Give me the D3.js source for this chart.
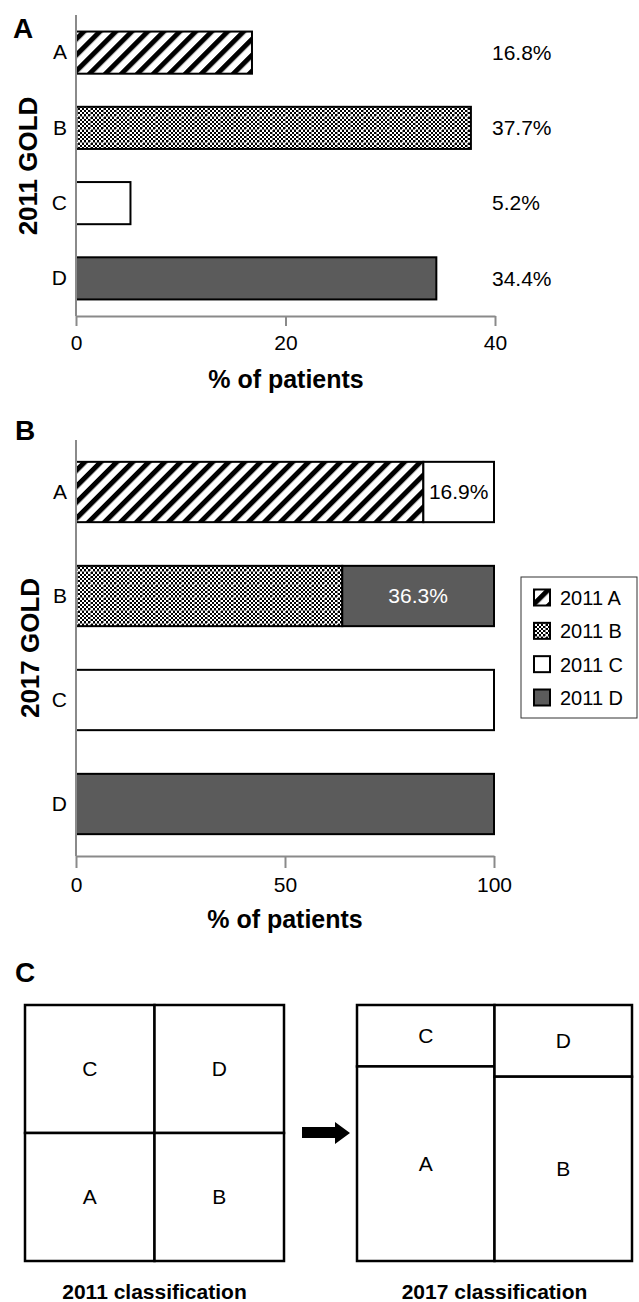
<!DOCTYPE html>
<html>
<head>
<meta charset="utf-8">
<script src="https://cdn.jsdelivr.net/npm/d3@7/dist/d3.min.js"></script>
<style>
  html, body { margin: 0; padding: 0; background: #fff; }
  svg { display: block; font-family: "Liberation Sans", Arial, sans-serif; }
</style>
</head>
<body>
<svg id="chart" width="639" height="1302"></svg>
<script>
// ---------- DATA ----------
const categories = ["A", "B", "C", "D"];
// Panel A: 2011 GOLD distribution (% of patients)
const valuesA = [16.8, 37.7, 5.2, 34.4];
const labelsA = ["16.8%", "37.7%", "5.2%", "34.4%"];
const ticksA = [0, 20, 40];
// Panel B: 2017 GOLD composition by 2011 group (% of patients)
const seriesNames = ["2011 A", "2011 B", "2011 C", "2011 D"];
const s2011A = [83.1, 0, 0, 0];
const s2011B = [0, 63.7, 0, 0];
const s2011C = [16.9, 0, 100, 0];
const s2011D = [0, 36.3, 0, 100];
const ticksB = [0, 50, 100];
const segLabels = [{cat: "A", series: "2011 C", text: "16.9%"}, {cat: "B", series: "2011 D", text: "36.3%"}];
// Panel C: classification grids (fraction of height taken by upper cell per column)
const gridCols = [["C", "A"], ["D", "B"]];
const split2011 = [0.5, 0.5];
const split2017 = [0.24, 0.28];

// ---------- SETUP ----------
const svg = d3.select("#chart");
const defs = svg.append("defs");
const dark = "#5b5b5b";
const axisGray = "#8a8a8a";
const fs = 21;

// stripes pattern
const sp = 11.3;
const stripes = defs.append("pattern").attr("id", "stripes")
  .attr("patternUnits", "userSpaceOnUse").attr("width", sp).attr("height", sp)
  .attr("patternTransform", "rotate(45)");
stripes.append("rect").attr("width", sp).attr("height", sp).attr("fill", "#fff");
stripes.append("rect").attr("width", 5).attr("height", sp).attr("fill", "#000");

// checker pattern
const checker = defs.append("pattern").attr("id", "checker")
  .attr("patternUnits", "userSpaceOnUse").attr("width", 13).attr("height", 13);
checker.append("rect").attr("width", 13).attr("height", 13).attr("fill", "#fff");
for (let i = 0; i < 6; i++) for (let j = 0; j < 6; j++) {
  if ((i + j) % 2 === 0)
    checker.append("rect").attr("x", i * 2).attr("y", j * 2).attr("width", 2).attr("height", 2).attr("fill", "#000");
}
checker.append("rect").attr("x", 12).attr("y", 0).attr("width", 1).attr("height", 12).attr("fill", "#888");
checker.append("rect").attr("x", 0).attr("y", 12).attr("width", 12).attr("height", 1).attr("fill", "#888");

const fillFor = {"2011 A": "url(#stripes)", "2011 B": "url(#checker)", "2011 C": "#fff", "2011 D": dark};
const fillA = ["url(#stripes)", "url(#checker)", "#fff", dark];

function styleAxis(g) {
  g.selectAll(".domain").attr("stroke", axisGray).attr("stroke-width", 2);
  g.selectAll(".tick line").attr("stroke", axisGray).attr("stroke-width", 2);
  g.selectAll("text").attr("font-size", fs).attr("fill", "#000")
    .attr("font-family", "Liberation Sans, Arial, sans-serif");
}

// ---------- PANEL A ----------
const xA = d3.scaleLinear().domain([0, 40]).range([76, 495]);
const yA = d3.scaleBand().domain(categories).range([15, 316]).paddingInner(0.44).paddingOuter(0.22);

svg.append("g").selectAll("rect").data(valuesA).join("rect")
  .attr("x", xA(0)).attr("y", (d, i) => yA(categories[i]))
  .attr("width", d => xA(d) - xA(0)).attr("height", yA.bandwidth())
  .attr("fill", (d, i) => fillA[i]).attr("stroke", "#000").attr("stroke-width", 2);

svg.append("g").selectAll("text").data(labelsA).join("text")
  .attr("x", 492).attr("y", (d, i) => yA(categories[i]) + yA.bandwidth() / 2)
  .attr("dy", "0.35em").attr("font-size", fs).text(d => d);

const yAxisA = svg.append("g").attr("transform", `translate(${xA(0)},0)`)
  .call(d3.axisLeft(yA).tickSize(0).tickPadding(9));
yAxisA.select(".domain").attr("d", `M0,15V316`);
styleAxis(yAxisA);

const xAxisA = svg.append("g").attr("transform", "translate(0,316)")
  .call(d3.axisBottom(xA).tickValues(ticksA).tickSize(10).tickSizeOuter(0));
styleAxis(xAxisA);
xAxisA.selectAll("text").attr("y", 27).attr("dy", "0.35em");

svg.append("text").attr("x", 286).attr("y", 388).attr("text-anchor", "middle")
  .attr("font-size", 25).attr("font-weight", "bold").text("% of patients");
svg.append("text").attr("transform", "translate(37,166) rotate(-90)").attr("text-anchor", "middle")
  .attr("font-size", 26).attr("font-weight", "bold").text("2011 GOLD");
svg.append("text").attr("x", 13).attr("y", 38).attr("font-size", 28).attr("font-weight", "bold").text("A");

// ---------- PANEL B ----------
const xB = d3.scaleLinear().domain([0, 100]).range([76, 494]);
const yB = d3.scaleBand().domain(categories).range([440, 856]).paddingInner(0.42).paddingOuter(0.21);

const tableB = categories.map((c, i) => ({
  cat: c, "2011 A": s2011A[i], "2011 B": s2011B[i], "2011 C": s2011C[i], "2011 D": s2011D[i]
}));
const stacked = d3.stack().keys(seriesNames)(tableB);

const gB = svg.append("g");
stacked.forEach(layer => {
  gB.append("g").selectAll("rect").data(layer.filter(d => d[1] - d[0] > 0)).join("rect")
    .attr("x", d => xB(d[0])).attr("y", d => yB(d.data.cat))
    .attr("width", d => xB(d[1]) - xB(d[0])).attr("height", yB.bandwidth())
    .attr("fill", fillFor[layer.key]).attr("stroke", "#000").attr("stroke-width", 2);
});

segLabels.forEach(s => {
  const layer = stacked.find(l => l.key === s.series);
  const d = layer[categories.indexOf(s.cat)];
  svg.append("text").attr("x", (xB(d[0]) + xB(d[1])) / 2)
    .attr("y", yB(s.cat) + yB.bandwidth() / 2).attr("dy", "0.35em")
    .attr("text-anchor", "middle").attr("font-size", fs)
    .attr("fill", s.series === "2011 D" ? "#fff" : "#000").text(s.text);
});

const yAxisB = svg.append("g").attr("transform", `translate(${xB(0)},0)`)
  .call(d3.axisLeft(yB).tickSize(0).tickPadding(9));
yAxisB.select(".domain").attr("d", `M0,440V856`);
styleAxis(yAxisB);

const xAxisB = svg.append("g").attr("transform", "translate(0,856)")
  .call(d3.axisBottom(xB).tickValues(ticksB).tickSize(12).tickSizeOuter(0));
styleAxis(xAxisB);
xAxisB.selectAll("text").attr("y", 29).attr("dy", "0.35em");

svg.append("text").attr("x", 285).attr("y", 928).attr("text-anchor", "middle")
  .attr("font-size", 25).attr("font-weight", "bold").text("% of patients");
svg.append("text").attr("transform", "translate(39,648) rotate(-90)").attr("text-anchor", "middle")
  .attr("font-size", 26).attr("font-weight", "bold").text("2017 GOLD");
svg.append("text").attr("x", 15).attr("y", 440).attr("font-size", 28).attr("font-weight", "bold").text("B");

// legend
const legend = svg.append("g");
legend.append("rect").attr("x", 521).attr("y", 577).attr("width", 116).attr("height", 141)
  .attr("fill", "#fff").attr("stroke", "#333").attr("stroke-width", 1);
const legY = d3.scalePoint().domain(seriesNames).range([598, 698]);
seriesNames.forEach(n => {
  legend.append("rect").attr("x", 534).attr("y", legY(n) - 8.5).attr("width", 16).attr("height", 16)
    .attr("fill", fillFor[n]).attr("stroke", "#000").attr("stroke-width", 2);
  legend.append("text").attr("x", 560).attr("y", legY(n)).attr("dy", "0.35em")
    .attr("font-size", 20).text(n);
});

// ---------- PANEL C ----------
svg.append("text").attr("x", 15).attr("y", 982).attr("font-size", 28).attr("font-weight", "bold").text("C");
const yC = d3.scaleLinear().domain([0, 1]).range([1005, 1261]);

function drawGrid(x0, x1, splits, title) {
  const xC = d3.scaleBand().domain([0, 1]).range([x0, x1]);
  const g = svg.append("g");
  gridCols.forEach((col, ci) => {
    const parts = [[0, splits[ci]], [splits[ci], 1]];
    parts.forEach((p, pi) => {
      g.append("rect").attr("x", xC(ci)).attr("y", yC(p[0]))
        .attr("width", xC.bandwidth()).attr("height", yC(p[1]) - yC(p[0]))
        .attr("fill", "#fff").attr("stroke", "#000").attr("stroke-width", 2.5);
      g.append("text").attr("x", xC(ci) + xC.bandwidth() / 2)
        .attr("y", (yC(p[0]) + yC(p[1])) / 2).attr("dy", "0.35em")
        .attr("text-anchor", "middle").attr("font-size", fs).text(col[pi]);
    });
  });
  svg.append("text").attr("x", (x0 + x1) / 2).attr("y", 1299).attr("text-anchor", "middle")
    .attr("font-size", 21).attr("font-weight", "bold").text(title);
}
drawGrid(25, 284, split2011, "2011 classification");
drawGrid(357, 632, split2017, "2017 classification");

// arrow
svg.append("path").attr("d", "M302,1127H335V1122L350,1133L335,1144V1138H302Z").attr("fill", "#000");
</script>
</body>
</html>
